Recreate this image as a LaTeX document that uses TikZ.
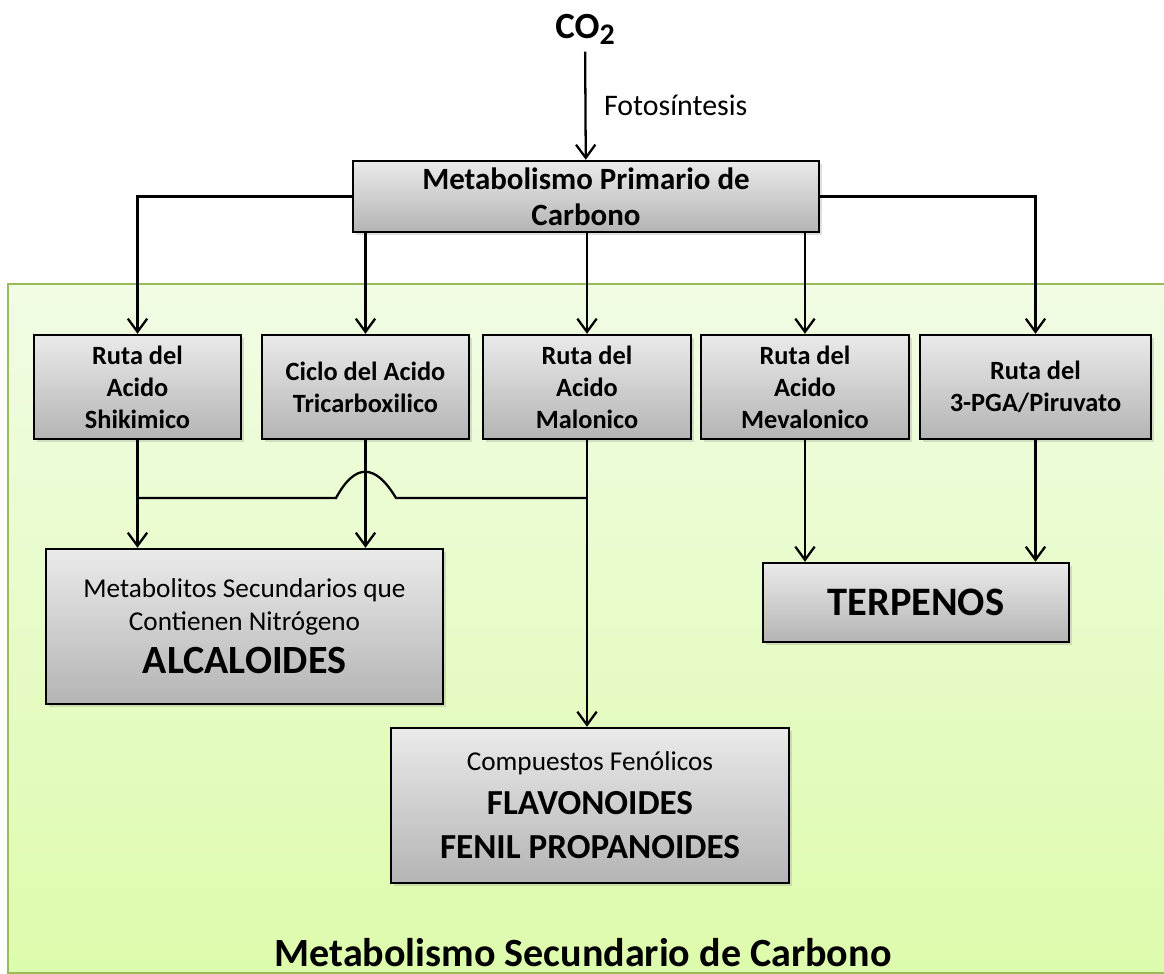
\documentclass[tikz,border=0pt]{standalone}
\usepackage{fontspec}
\setmainfont{Carlito}
\usetikzlibrary{arrows.meta,shadows}

\definecolor{cajaarriba}{HTML}{EAEAEA}
\definecolor{cajaabajo}{HTML}{B4B4B4}
\definecolor{verdearriba}{HTML}{F1FCE4}
\definecolor{verdeabajo}{HTML}{DDFBAC}
\definecolor{verdeborde}{HTML}{9BBB59}

\tikzset{
  caja/.style={draw=black, line width=1.4pt, top color=cajaarriba, bottom color=cajaabajo,
    align=center, inner sep=0pt,
    drop shadow={opacity=0.25, shadow xshift=1.5pt, shadow yshift=-1.5pt}},
  ruta/.style={caja, minimum width=4.14cm, minimum height=2.08cm,
    font=\fontsize{15}{18.2}\selectfont\bfseries},
  linea/.style={line width=1.3pt},
  flecha/.style={linea, -{Straight Barb[length=7.5pt,width=11pt]}}
}

\begin{document}
\begin{tikzpicture}[x=0.02cm, y=-0.02cm]
\useasboundingbox (0,0) rectangle (1164,974);

\draw[verdeborde, line width=1.2pt, top color=verdearriba, bottom color=verdeabajo] (8,284) rectangle (1168,973);

\node[anchor=base, inner sep=4pt, font=\fontsize{21}{22}\selectfont\bfseries] (co) at (585,38)
  {CO\raisebox{-3.5pt}{\fontsize{17}{17}\selectfont 2}};

\node[caja, minimum width=9.32cm, minimum height=1.42cm, font=\fontsize{17.6}{20.5}\selectfont\bfseries]
  (prim) at (586,196.5) {Metabolismo Primario de\\Carbono};

\node[ruta] (shik) at (137.5,387) {Ruta del\\Acido\\Shikimico};
\node[ruta] (cic) at (365.5,387) {Ciclo del Acido\\Tricarboxilico};
\node[ruta, minimum width=4.16cm] (mal) at (587,387) {Ruta del\\Acido\\Malonico};
\node[ruta, minimum width=4.16cm] (mev) at (805,387) {Ruta del\\Acido\\Mevalonico};
\node[ruta, minimum width=4.62cm] (pga) at (1035.5,387) {Ruta del\\3-PGA/Piruvato};

\node[caja, minimum width=7.94cm, minimum height=3.1cm, font=\fontsize{15.5}{18.8}\selectfont]
  (alc) at (244.5,626.5)
  {Metabolitos Secundarios que\\
   Contienen Nitrógeno\\[5.7pt]
   \fontsize{22.8}{18.8}\selectfont\bfseries ALCALOIDES};

\node[caja, minimum width=6.12cm, minimum height=1.58cm, font=\fontsize{23}{24}\selectfont\bfseries]
  (ter) at (916,602.5) {TERPENOS};

\node[caja, minimum width=7.96cm, minimum height=3.1cm, font=\fontsize{15.5}{25}\selectfont]
  (fla) at (590,805.5)
  {Compuestos Fenólicos\\
   \fontsize{20}{25}\selectfont\bfseries FLAVONOIDES\\
   \fontsize{20}{25}\selectfont\bfseries FENIL PROPANOIDES};

\node[anchor=base, font=\fontsize{22.8}{24}\selectfont\bfseries] (titulo) at (583,966)
  {Metabolismo Secundario de Carbono};

% conexiones
\draw[flecha] (co) -- node[right=10pt, inner sep=0pt, font=\fontsize{17}{18}\selectfont] (foto) {Fotosíntesis} (prim);
\draw[flecha] (prim.west) -| (shik.north);
\draw[flecha] (prim.east) -| (pga.north);
\draw[flecha] (prim.south -| cic.north) -- (cic.north);
\draw[flecha] (prim.south -| mal.north) -- (mal.north);
\draw[flecha] (prim.south -| mev.north) -- (mev.north);

\draw[flecha] (shik.south) -- (shik.south |- alc.north);
\draw[flecha] (cic.south) -- (cic.south |- alc.north);
\draw[flecha] (mal.south) -- (mal.south |- fla.north);
\draw[flecha] (mev.south) -- (mev.south |- ter.north);
\draw[flecha] (pga.south) -- (pga.south |- ter.north);

% puente sobre la linea del ciclo
\coordinate (union) at (mal.south |- 0,498);
\draw[linea] (union) -- (396,498) .. controls (375,463) and (355,463) .. (336,498) -- (shik.south |- union);
\end{tikzpicture}
\end{document}
